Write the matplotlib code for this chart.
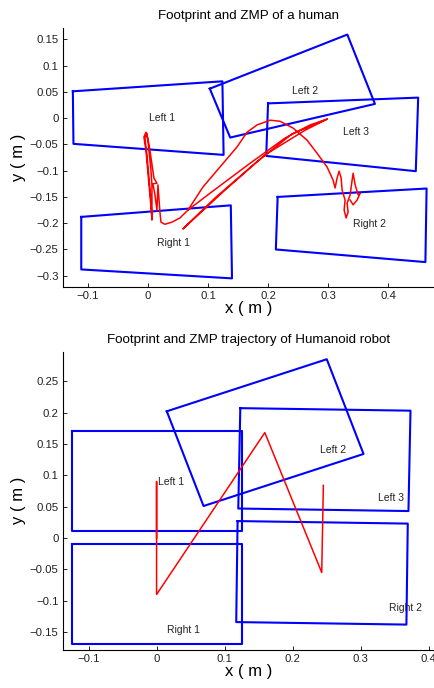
"""Footprint and ZMP plots: human vs humanoid robot."""

import matplotlib

matplotlib.use("Agg")
import matplotlib.pyplot as plt
import numpy as np
from matplotlib.ticker import FuncFormatter

plt.rcParams["font.family"] = ["Liberation Sans", "DejaVu Sans"]

# ---- human (top panel) ----
human_feet = {
    "Left 1": ([-0.125, 0.124, 0.126, -0.124], [0.051, 0.070, -0.070, -0.049]),
    "Left 2": ([0.103, 0.332, 0.378, 0.137], [0.056, 0.159, 0.027, -0.037]),
    "Left 3": ([0.200, 0.450, 0.446, 0.197], [0.028, 0.039, -0.101, -0.072]),
    "Right 1": ([-0.111, 0.138, 0.140, -0.111], [-0.188, -0.166, -0.305, -0.288]),
    "Right 2": ([0.216, 0.464, 0.462, 0.213], [-0.150, -0.134, -0.274, -0.250]),
}
human_label_pos = {
    "Left 1": (0.023, 0.0),
    "Left 2": (0.261, 0.052),
    "Left 3": (0.347, -0.027),
    "Right 1": (0.043, -0.238),
    "Right 2": (0.369, -0.202),
}

# ZMP of the human (NaN splits the traced strokes)
human_zmp_x = [
    0.0067, 0.0033, -0.0033, -0.0067, -0.0033, 0.0, 0.005, 0.0067, 0.0067, 0.005,
    -0.0017, -0.005, -0.0017, 0.0033, 0.01, 0.015, 0.0083, 0.0117, 0.015, 0.0167,
    0.02, 0.0217, 0.0283, 0.04, 0.0533, 0.0667,
    0.0917, 0.12, 0.1483, 0.165, 0.1817, 0.2033, 0.22, 0.2417, 0.265, 0.2817,
    0.2983, 0.3083,
    0.3117, 0.315, 0.3183, 0.3217, 0.3233, 0.3283, 0.3267, 0.33, 0.3333, 0.3317,
    0.3367, 0.34, 0.3417, 0.345, 0.35, 0.3533, 0.3483, 0.3417, 0.3367,
    np.nan,
    0.0667, 0.1033, 0.17, 0.2283, 0.27, 0.2983, 0.2617, 0.195, 0.1283, 0.0783,
    0.0583, 0.0633, 0.1117, 0.1783, 0.24, 0.2983,
]
human_zmp_y = [
    -0.190, -0.146, -0.061, -0.036, -0.027, -0.042, -0.099, -0.127, -0.194, -0.156,
    -0.070, -0.038, -0.029, -0.061, -0.114, -0.124, -0.125, -0.146, -0.175, -0.127,
    -0.179, -0.198, -0.202, -0.198, -0.190, -0.175,
    -0.131, -0.093, -0.055, -0.027, -0.013, -0.004, -0.006, -0.019, -0.042, -0.067,
    -0.093, -0.118,
    -0.133, -0.114, -0.101, -0.114, -0.137, -0.156, -0.175, -0.190, -0.179, -0.162,
    -0.146, -0.118, -0.105, -0.127, -0.146, -0.143, -0.156, -0.165, -0.156,
    np.nan,
    -0.175, -0.143, -0.086, -0.038, -0.013, -0.002, -0.023, -0.070, -0.137, -0.190,
    -0.211, -0.205, -0.152, -0.086, -0.030, -0.002,
]

# ---- robot (bottom panel) ----
robot_feet = {
    "Left 1": ([-0.124, 0.126, 0.126, -0.124], [0.170, 0.170, 0.011, 0.011]),
    "Left 2": ([0.015, 0.250, 0.304, 0.069], [0.202, 0.285, 0.134, 0.051]),
    "Left 3": ([0.123, 0.373, 0.370, 0.120], [0.207, 0.203, 0.043, 0.047]),
    "Right 1": ([-0.124, 0.126, 0.126, -0.124], [-0.010, -0.010, -0.169, -0.169]),
    "Right 2": ([0.119, 0.369, 0.367, 0.117], [0.027, 0.023, -0.138, -0.134]),
}
robot_label_pos = {
    "Left 1": (0.021, 0.090),
    "Left 2": (0.259, 0.140),
    "Left 3": (0.345, 0.064),
    "Right 1": (0.040, -0.147),
    "Right 2": (0.366, -0.112),
}
robot_zmp_x = [0.0, 0.0, 0.0, 0.159, 0.2426, 0.245]
robot_zmp_y = [0.0, 0.090, -0.090, 0.168, -0.055, 0.084]

x_ticks = [-0.1, 0, 0.1, 0.2, 0.3, 0.4]
human_y_ticks = [-0.3, -0.25, -0.2, -0.15, -0.1, -0.05, 0, 0.05, 0.1, 0.15]
robot_y_ticks = [-0.15, -0.1, -0.05, 0, 0.05, 0.1, 0.15, 0.2, 0.25]


def tick_fmt(v, _pos):
    return f"{round(v, 3):g}".replace("-", "\u2212")


def draw_panel(ax, feet, label_pos, zmp_x, zmp_y, title, xlim, ylim, yticks):
    for name, (fx, fy) in feet.items():
        ax.plot(fx + fx[:1], fy + fy[:1], color="#0000ff", lw=1.5)
        lx, ly = label_pos[name]
        ax.text(lx, ly, name, ha="center", va="center", fontsize=7.5, color="#222222")
    ax.plot(zmp_x, zmp_y, color="#ff0000", lw=1.1)
    ax.set_xlim(*xlim)
    ax.set_ylim(*ylim)
    ax.set_xticks(x_ticks)
    ax.set_yticks(yticks)
    ax.xaxis.set_major_formatter(FuncFormatter(tick_fmt))
    ax.yaxis.set_major_formatter(FuncFormatter(tick_fmt))
    ax.tick_params(direction="in", length=3, width=0.6, labelsize=8.2, pad=3,
                   labelcolor="#222222")
    for side in ("top", "right"):
        ax.spines[side].set_visible(False)
    for side in ("left", "bottom"):
        ax.spines[side].set_linewidth(0.8)
    ax.set_title(title, fontsize=9.6, pad=6)
    ax.set_xlabel("x ( m )", fontsize=12, labelpad=0)
    ax.set_ylabel("y ( m )", fontsize=12, labelpad=3)


fig = plt.figure(figsize=(4.35, 6.88), dpi=100)
ax_top = fig.add_axes([0.144, 0.5824, 0.856, 0.3773])
ax_bot = fig.add_axes([0.144, 0.0557, 0.856, 0.4331])

draw_panel(
    ax_top, human_feet, human_label_pos, human_zmp_x, human_zmp_y,
    "Footprint and ZMP of a human",
    (-0.142, 0.478), (-0.322, 0.172), human_y_ticks,
)
draw_panel(
    ax_bot, robot_feet, robot_label_pos, robot_zmp_x, robot_zmp_y,
    "Footprint and ZMP trajectory of Humanoid robot",
    (-0.138, 0.409), (-0.178, 0.297), robot_y_ticks,
)

fig.savefig("out.png", dpi=100)
plt.close(fig)
